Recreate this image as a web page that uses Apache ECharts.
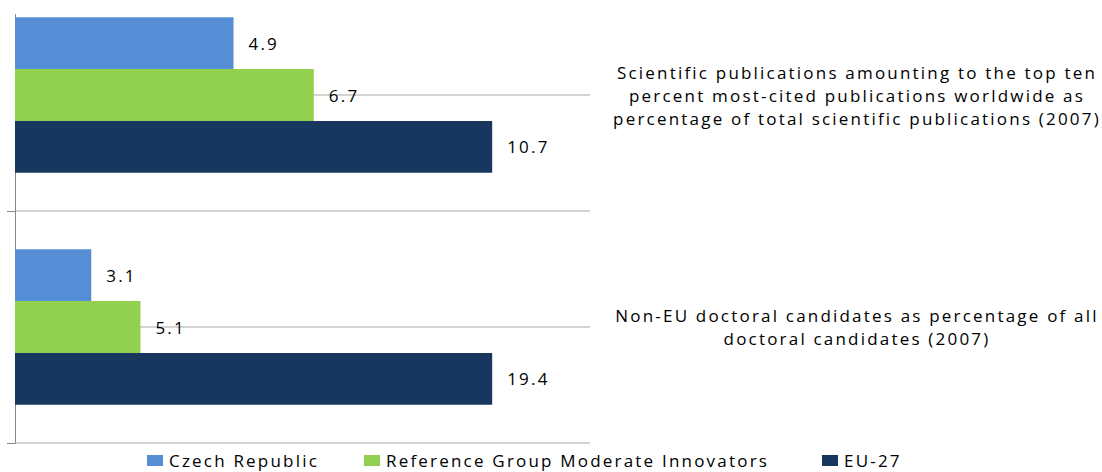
<!DOCTYPE html>
<html>
<head>
<meta charset="utf-8">
<script src="https://cdn.jsdelivr.net/npm/echarts@6/dist/echarts.min.js"></script>
<style>
html,body{margin:0;padding:0;background:#fff;overflow:hidden;width:1102px;height:472px;position:relative;}
#chart{width:1102px;height:493px;position:absolute;left:0;top:-21px;}
#chart text{letter-spacing:2.2px;}
#topmask{position:absolute;left:0;top:0;width:24px;height:14px;background:#fff;}
</style>
</head>
<body>
<div id="chart"></div>
<div id="topmask"></div>
<script>
// Indicator categories (top to bottom)
var categories = [
  'Scientific publications amounting to the top ten\npercent most-cited publications worldwide as\npercentage of total scientific publications (2007)',
  'Non-EU doctoral candidates as percentage of all\ndoctoral candidates (2007)'
];
var seriesNames = ['Czech Republic', 'Reference Group Moderate Innovators', 'EU-27'];
// Raw values as labelled in the chart
var czechValues = [4.9, 3.1];
var refGroupValues = [6.7, 5.1];
var eu27Values = [10.7, 19.4];
var colors = ['#558ED5', '#92D050', '#17375E'];

// Bars are drawn relative to EU-27 (EU-27 = 100) as in the original chart
function indexed(vals) {
  return vals.map(function (v, i) {
    return { value: v / eu27Values[i] * 100, raw: v };
  });
}
var allValues = [czechValues, refGroupValues, eu27Values];

var FONT = 'Open Sans';
var FS = 17;
var chart = echarts.init(document.getElementById('chart'), null, { renderer: 'svg' });

var series = allValues.map(function (vals, k) {
  return {
    name: seriesNames[k],
    type: 'bar',
    yAxisIndex: 0,
    data: indexed(vals),
    barGap: '0%',
    barCategoryGap: '33%',
    itemStyle: { color: colors[k] },
    label: {
      show: true,
      position: 'right',
      distance: 15,
      color: '#000',
      fontFamily: FONT,
      fontSize: FS,
      formatter: function (p) { return p.data.raw.toFixed(1); }
    },
    emphasis: { disabled: true }
  };
});

var legendLefts = [147, 364, 822];
var legends = seriesNames.map(function (n, k) {
  return {
    left: legendLefts[k],
    top: 473,
    padding: 0,
    itemWidth: 16,
    itemHeight: 11,
    itemGap: 6,
    icon: 'rect',
    textStyle: { fontFamily: FONT, fontSize: FS, color: '#000', padding: [0, 0, 0, 1] },
    data: [n]
  };
});

chart.setOption({
  animation: false,
  color: colors,
  grid: { left: 15, right: 512, top: 0, bottom: 29, containLabel: false },
  legend: legends,
  xAxis: {
    type: 'value',
    min: 0,
    max: 120.5,
    axisLine: { show: false },
    axisTick: { show: false },
    axisLabel: { show: false },
    splitLine: { show: false }
  },
  yAxis: [
    {
      type: 'category',
      data: categories,
      inverse: true,
      position: 'left',
      axisLine: { show: true, lineStyle: { color: '#868686', width: 1 } },
      axisTick: { show: true, length: 8, lineStyle: { color: '#868686' } },
      axisLabel: { show: false },
      splitLine: { show: false }
    },
    {
      type: 'category',
      data: categories,
      inverse: true,
      position: 'right',
      axisLine: { show: false },
      axisTick: { show: false },
      axisLabel: {
        show: true,
        margin: 267,
        align: 'center',
        lineHeight: 23,
        color: '#000',
        fontFamily: FONT,
        fontSize: FS
      },
      splitLine: { show: false }
    },
    {
      type: 'value',
      min: 0,
      max: 4,
      interval: 1,
      inverse: true,
      position: 'left',
      axisLine: { show: false },
      axisTick: { show: false },
      axisLabel: { show: false },
      splitLine: { show: true, lineStyle: { color: '#C6C6C6', width: 1.5 } }
    }
  ],
  series: series
});
</script>
</body>
</html>
